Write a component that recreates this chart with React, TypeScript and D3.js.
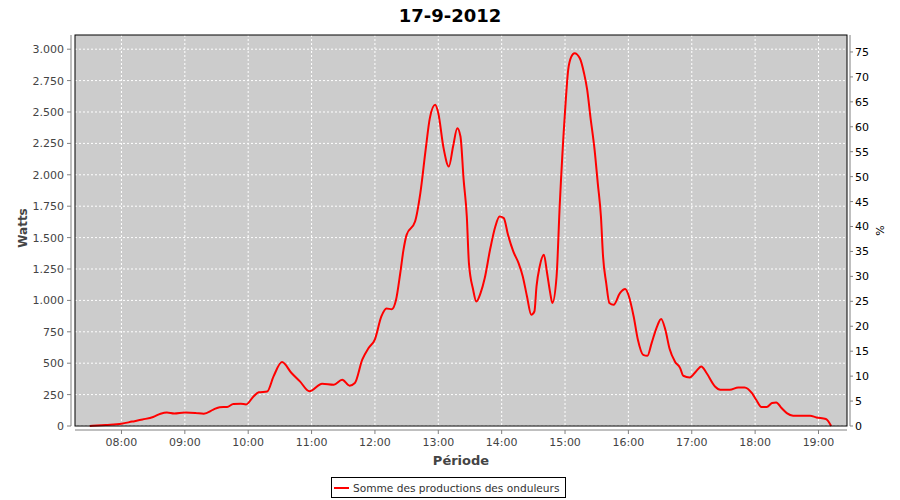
import React from 'react';
import * as d3 from 'd3';

// readings taken from the curve (time of day, watts)
const times = [
  '07:30', '07:45', '08:00', '08:10', '08:20', '08:30', '08:37', '08:43', '08:50', '09:00',
  '09:10', '09:18', '09:27', '09:33', '09:40', '09:46', '09:53', '09:58', '10:05', '10:10',
  '10:18', '10:24', '10:32', '10:41', '10:49', '10:58', '11:10', '11:21', '11:29', '11:36',
  '11:41', '11:48', '11:54', '12:00', '12:06', '12:11', '12:16', '12:20', '12:24', '12:27',
  '12:30', '12:38', '12:43', '12:48', '12:52', '12:57', '13:00', '13:05', '13:10', '13:14',
  '13:18', '13:21', '13:24', '13:27', '13:29', '13:33', '13:36', '13:40', '13:44', '13:49',
  '13:54', '13:58', '14:02', '14:06', '14:11', '14:16', '14:20', '14:24', '14:28', '14:31',
  '14:33', '14:36', '14:40', '14:43', '14:46', '14:48', '14:52', '14:55', '15:00', '15:03',
  '15:06', '15:09', '15:14', '15:18', '15:21', '15:24', '15:28', '15:31', '15:34', '15:36',
  '15:39', '15:42', '15:46', '15:52', '15:57', '16:00', '16:05', '16:09', '16:14', '16:18',
  '16:22', '16:27', '16:31', '16:35', '16:39', '16:44', '16:49', '16:52', '16:58', '17:04',
  '17:09', '17:14', '17:22', '17:27', '17:36', '17:44', '17:50', '17:57', '18:01', '18:06',
  '18:11', '18:16', '18:20', '18:25', '18:30', '18:36', '18:52', '18:58', '19:07', '19:12',
];

const watts = [
  0, 8, 18, 35, 52, 72, 98, 108, 100, 108,
  104, 98, 130, 150, 152, 175, 177, 172, 235, 268,
  275, 395, 509, 422, 355, 276, 337, 329, 368, 321,
  342, 528, 621, 690, 870, 935, 930, 1005, 1218, 1400,
  1522, 1628, 1854, 2199, 2451, 2557, 2491, 2212, 2066, 2225,
  2371, 2305, 1960, 1668, 1297, 1085, 992, 1058, 1178, 1403,
  1588, 1668, 1655, 1522, 1390, 1297, 1191, 1031, 886, 912,
  1111, 1270, 1363, 1218, 1058, 979, 1191, 1759, 2503, 2835,
  2941, 2968, 2928, 2809, 2676, 2464, 2199, 1934, 1668, 1350,
  1138, 979, 965, 1058, 1090, 1045, 872, 687, 567, 559,
  660, 790, 852, 766, 615, 514, 461, 400, 387, 434,
  474, 422, 315, 289, 289, 307, 307, 262, 209, 151,
  151, 183, 188, 143, 103, 82, 82, 68, 56, 0,
];

const hourTicks = ['08:00', '09:00', '10:00', '11:00', '12:00', '13:00', '14:00', '15:00', '16:00', '17:00', '18:00', '19:00'];
const wattTicks = [0, 250, 500, 750, 1000, 1250, 1500, 1750, 2000, 2250, 2500, 2750, 3000];
const percentTicks = [0, 5, 10, 15, 20, 25, 30, 35, 40, 45, 50, 55, 60, 65, 70, 75];

const title = '17-9-2012';
const seriesName = 'Somme des productions des onduleurs';

const W = 900;
const H = 500;
const plot = { left: 75, right: 847, top: 35, bottom: 426 };
const font = '"DejaVu Sans", sans-serif';

const parse = d3.timeParse('%H:%M');
const fmtWatt = (v: number) => d3.format(',')(v).replace(/,/g, '.');

const App: React.FC = () => {
  const x = d3.scaleTime()
    .domain([parse('07:16')!, parse('19:27')!])
    .range([plot.left, plot.right]);
  const y = d3.scaleLinear().domain([0, 3113]).range([plot.bottom, plot.top]);
  const yPct = d3.scaleLinear().domain([0, 78.4]).range([plot.bottom, plot.top]);

  const points = times.map((t, i) => ({ t: parse(t)!, v: watts[i] }));
  const line = d3.line<{ t: Date; v: number }>()
    .x(d => x(d.t))
    .y(d => y(d.v))
    .curve(d3.curveMonotoneX);

  const axisGray = '#808080';
  const tickText = '#444444';

  return (
    <svg width={W} height={H} style={{ position: 'absolute', left: 0, top: 0, background: '#fff' }}>
      <text x={450} y={22} textAnchor="middle" fontFamily={font} fontWeight="bold" fontSize={18} fill="#000">
        {title}
      </text>

      {/* plot background + grid */}
      <rect x={plot.left} y={plot.top} width={plot.right - plot.left} height={plot.bottom - plot.top} fill="#cccccc" />
      {wattTicks.map(v => (
        <line key={'gy' + v} x1={plot.left} x2={plot.right} y1={y(v)} y2={y(v)}
          stroke="#fff" strokeWidth={1} strokeDasharray="2,2" />
      ))}
      {hourTicks.map(h => (
        <line key={'gx' + h} x1={x(parse(h)!)} x2={x(parse(h)!)} y1={plot.top} y2={plot.bottom}
          stroke="#fff" strokeWidth={1} strokeDasharray="2,2" />
      ))}

      <path d={line(points) || ''} fill="none" stroke="#ff0000" strokeWidth={2} strokeLinejoin="round" />

      <rect x={plot.left} y={plot.top} width={plot.right - plot.left} height={plot.bottom - plot.top}
        fill="none" stroke="#000" strokeWidth={1} />

      {/* left axis */}
      <line x1={71} x2={71} y1={plot.top} y2={plot.bottom} stroke={axisGray} />
      {wattTicks.map(v => (
        <g key={'ly' + v}>
          <line x1={67} x2={71} y1={y(v)} y2={y(v)} stroke={axisGray} />
          <text x={64} y={y(v)} dy="0.36em" textAnchor="end" fontFamily={font} fontSize={11} fill={tickText}>
            {fmtWatt(v)}
          </text>
        </g>
      ))}
      <text transform={`translate(27,228) rotate(-90)`} textAnchor="middle"
        fontFamily={font} fontWeight="bold" fontSize={12} fill={tickText}>
        Watts
      </text>

      {/* right axis */}
      <line x1={850} x2={850} y1={plot.top} y2={plot.bottom} stroke={axisGray} />
      {percentTicks.map(v => (
        <g key={'ry' + v}>
          <line x1={850} x2={853} y1={yPct(v)} y2={yPct(v)} stroke={axisGray} />
          <text x={855} y={yPct(v)} dy="0.36em" fontFamily={font} fontSize={11} fill="#000">
            {v}
          </text>
        </g>
      ))}
      <text transform={`translate(884,${(plot.top + plot.bottom) / 2}) rotate(-90)`} textAnchor="middle"
        fontFamily={font} fontSize={11} fill="#000">
        %
      </text>

      {/* bottom axis */}
      <line x1={plot.left} x2={plot.right} y1={430} y2={430} stroke={axisGray} />
      {hourTicks.map(h => (
        <g key={'bx' + h}>
          <line x1={x(parse(h)!)} x2={x(parse(h)!)} y1={430} y2={434} stroke={axisGray} />
          <text x={x(parse(h)!)} y={446} textAnchor="middle" fontFamily={font} fontSize={11} fill={tickText}>
            {h}
          </text>
        </g>
      ))}
      <text x={(plot.left + plot.right) / 2} y={465} textAnchor="middle" fontFamily={font} fontWeight="bold"
        fontSize={13} fill={tickText}>
        Période
      </text>

      {/* legend */}
      <rect x={331.5} y={477.5} width={234} height={20} fill="#fff" stroke="#000" />
      <line x1={334} x2={349} y1={488} y2={488} stroke="#ff0000" strokeWidth={2} />
      <text x={353} y={488} dy="0.36em" fontFamily={font} fontSize={10.6} fill="#333">
        {seriesName}
      </text>
    </svg>
  );
};

export default App;
